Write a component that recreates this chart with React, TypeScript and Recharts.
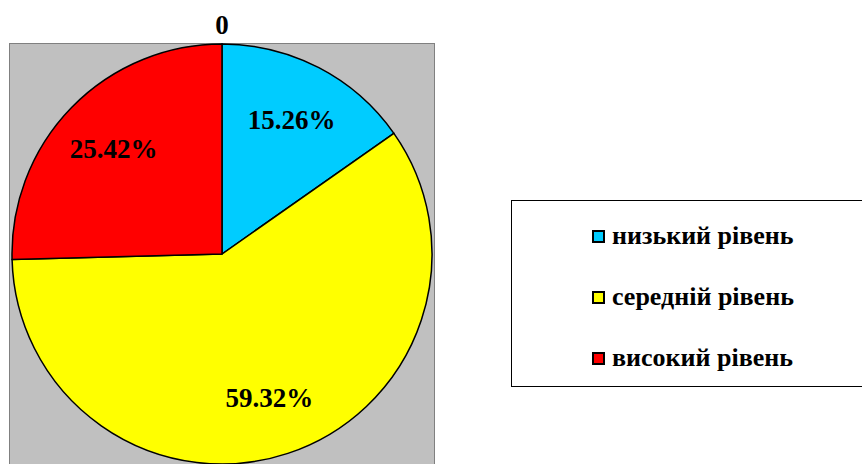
import { PieChart, Pie, Cell, Legend } from 'recharts';

// level shares, %
const levels = ['низький рівень', 'середній рівень', 'високий рівень'];
const shares = [15.26, 59.32, 25.42];
const colors = ['#00CCFF', '#FFFF00', '#FF0000'];
const title = '0';

const data = levels.map((name, i) => ({ name, value: shares[i] }));

const FONT = "'Liberation Serif', 'DejaVu Serif', serif";
const RAD = Math.PI / 180;

function renderLabel({ cx, cy, midAngle, outerRadius, value }: any) {
  const r = outerRadius * 0.72;
  const x = cx + r * Math.cos(-midAngle * RAD);
  const y = cy + r * Math.sin(-midAngle * RAD);
  return (
    <text
      x={x}
      y={y}
      textAnchor="middle"
      dominantBaseline="central"
      fill="#000"
      style={{ fontFamily: FONT, fontWeight: 'bold', fontSize: 27 }}
    >
      {`${value.toFixed(2)}%`}
    </text>
  );
}

function LegendBox() {
  return (
    <div
      style={{
        width: 370,
        height: 187,
        border: '1px solid #000',
        background: '#fff',
        boxSizing: 'border-box',
        position: 'relative',
      }}
    >
      {data.map((d, i) => (
        <div
          key={d.name}
          style={{
            position: 'absolute',
            left: 80,
            top: 20 + i * 61,
            display: 'flex',
            alignItems: 'center',
            fontFamily: FONT,
            fontWeight: 'bold',
            fontSize: 26,
            lineHeight: '30px',
            whiteSpace: 'nowrap',
          }}
        >
          <span
            style={{
              display: 'inline-block',
              width: 9,
              height: 9,
              border: '2px solid #000',
              background: colors[i],
              marginRight: 7,
            }}
          />
          {d.name}
        </div>
      ))}
    </div>
  );
}

export default function App() {
  return (
    <div style={{ position: 'relative', width: 862, height: 464, overflow: 'hidden', background: '#fff', fontFamily: FONT }}>
      <style>{'body{margin:0}'}</style>
      {/* plot area */}
      <div
        style={{
          position: 'absolute',
          left: 9,
          top: 43,
          width: 426,
          height: 440,
          background: '#C0C0C0',
          border: '1px solid #808080',
          boxSizing: 'border-box',
        }}
      />
      <div
        style={{
          position: 'absolute',
          left: 0,
          width: 444,
          top: 10,
          textAlign: 'center',
          fontFamily: FONT,
          fontWeight: 'bold',
          fontSize: 27,
          lineHeight: '30px',
        }}
      >
        {title}
      </div>
      <div style={{ position: 'absolute', left: 0, top: 0 }}>
        <PieChart width={862} height={464} margin={{ top: 0, right: 0, bottom: 0, left: 0 }}>
          <Pie
            data={data}
            dataKey="value"
            nameKey="name"
            cx={222}
            cy={254}
            outerRadius={210}
            startAngle={90}
            endAngle={-270}
            stroke="#000"
            strokeWidth={1.5}
            label={renderLabel}
            labelLine={false}
            isAnimationActive={false}
          >
            {data.map((d, i) => (
              <Cell key={d.name} fill={colors[i]} />
            ))}
          </Pie>
          <Legend
            content={() => <LegendBox />}
            layout="vertical"
            wrapperStyle={{ position: 'absolute', left: 511, top: 200, width: 370, height: 187 }}
          />
        </PieChart>
      </div>
    </div>
  );
}
